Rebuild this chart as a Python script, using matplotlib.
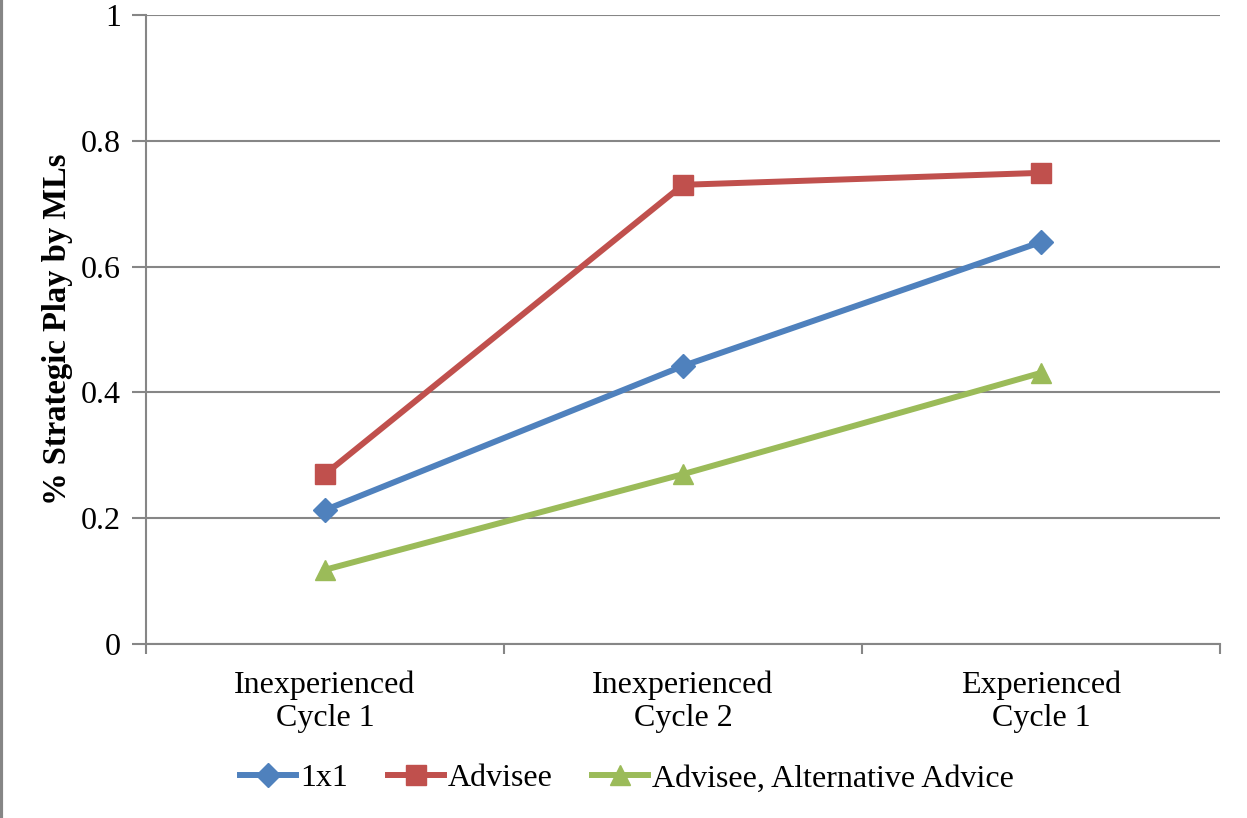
import matplotlib.pyplot as plt
from matplotlib.lines import Line2D

plt.rcParams['font.family'] = ['Liberation Serif', 'DejaVu Serif']

categories = ["Inexperienced\nCycle 1", "Inexperienced\nCycle 2", "Experienced\nCycle 1"]
one_by_one = [0.213, 0.442, 0.639]
advisee = [0.270, 0.730, 0.749]
advisee_alt = [0.118, 0.270, 0.431]
y_ticks = [0, 0.2, 0.4, 0.6, 0.8, 1]
y_tick_labels = ["0", "0.2", "0.4", "0.6", "0.8", "1"]

grid_col = "#868686"

fig = plt.figure(figsize=(12.47, 8.18), dpi=100)
ax = fig.add_axes([0.1171, 0.2127, 0.8612, 0.769])

x = range(len(categories))
ax.plot(x, one_by_one, color="#4F81BD", lw=4.3, marker="D", ms=12,
        label="1x1", zorder=3)
ax.plot(x, advisee, color="#C0504D", lw=4.3, marker="s", ms=14,
        label="Advisee", zorder=3)
ax.plot(x, advisee_alt, color="#9BBB59", lw=4.3, marker="^", ms=15,
        label="Advisee, Alternative Advice", zorder=3)

ax.set_xlim(-0.5, 2.5)
ax.set_ylim(0, 1)
ax.set_yticks(y_ticks)
ax.set_yticklabels(y_tick_labels, fontsize=23)
ax.yaxis.grid(True, color=grid_col, lw=1.5)
ax.set_axisbelow(True)

# category labels sit between boundary ticks
ax.set_xticks([-0.5, 0.5, 1.5, 2.5])
ax.set_xticklabels([])
ax.set_xticks(list(x), minor=True)
ax.set_xticklabels(categories, minor=True, fontsize=23, linespacing=1.2)
ax.tick_params(axis="x", which="minor", length=0, pad=19)
ax.tick_params(axis="x", which="major", length=7, width=1.5, color=grid_col)
ax.tick_params(axis="y", length=10, width=1.5, color=grid_col, pad=8)

for side in ["top", "right"]:
    ax.spines[side].set_visible(False)
for side in ["left", "bottom"]:
    ax.spines[side].set_color(grid_col)
    ax.spines[side].set_linewidth(1.5)

ax.set_ylabel("% Strategic Play by MLs", fontsize=23.5, fontweight="bold", labelpad=6)

fig.legend(loc="center", bbox_to_anchor=(0.503, 0.048), ncol=3, frameon=False,
           fontsize=23, handlelength=1.75, handletextpad=0.12, columnspacing=1.25)

# chart area border on the left edge
fig.add_artist(Line2D([0.001, 0.001], [0, 1], color=grid_col, lw=3,
                      transform=fig.transFigure))

fig.savefig("out.png", dpi=100)
